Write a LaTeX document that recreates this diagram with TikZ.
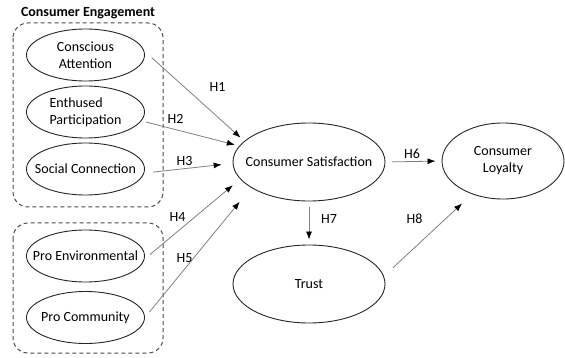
\documentclass[tikz,border=0pt]{standalone}
\usepackage{fontspec}
\setmainfont{Carlito}
\usepackage{tikz}
\usetikzlibrary{shapes.geometric,arrows.meta}

\begin{document}
\begin{tikzpicture}[x=1pt,y=-1pt,
  construct/.style={ellipse,draw=black!85,line width=0.9pt,inner ysep=0pt,inner xsep=-15pt,
    minimum width=118pt,minimum height=52pt,align=center},
  latent/.style={construct,minimum width=152pt,minimum height=78pt},
  group/.style={draw=black!70,line width=1pt,dash pattern=on 4pt off 3pt,rounded corners=15pt},
  path/.style={draw=black!50,line width=0.8pt,-{Latex[length=8pt,width=6pt,black]}},
  hyp/.style={inner sep=0pt}]
\useasboundingbox (0,0) rectangle (565,358);
\fontsize{14}{17}\selectfont

\draw[group] (13,23) rectangle (163,207);
\draw[group] (13,223) rectangle (163,353);
\node[font=\bfseries,inner sep=0pt] (title) at (88,13) {Consumer Engagement};

\node[construct] (ca) at (85.5,55) {Conscious\\Attention};
\node[construct,align=left] (ep) at (85.5,112) {Enthused\\Participation};
\node[construct] (sc) at (85.5,169) {Social Connection};
\node[construct] (pe) at (85.5,256) {Pro Environmental};
\node[construct] (pc) at (85.5,317.5) {Pro Community};

\node[latent] (cs) at (309,162) {Consumer Satisfaction};
\node[latent,minimum width=122pt,minimum height=76pt] (cl) at (503,161) {Consumer\\Loyalty};
\node[latent] (tr) at (309,284) {Trust};

\draw[path,shorten <=10pt,shorten >=5pt] (ca.4) -- (cs.162.6);
\draw[path,shorten <=4.7pt,shorten >=4.5pt] (ep.-9) -- (cs.167);
\draw[path,shorten <=9pt,shorten >=11pt] (sc.-4) -- (cs.181.5);
\draw[path,shorten <=7pt,shorten >=9.5pt] (pe.-3) -- (cs.-166);
\draw[path,shorten <=7pt,shorten >=18pt] (pc.0) -- (cs.-156);
\draw[path,shorten <=7pt,shorten >=6pt] (cs.east) -- (cl.west);
\draw[path,shorten <=6pt,shorten >=5pt] (cs.south) -- (tr.north);
\draw[path,shorten <=12.5pt,shorten >=13.6pt] (tr.6.5) -- (cl.-133.4);

\node[hyp] (h1) at (217.5,87) {H1};
\node[hyp] (h2) at (175.5,119) {H2};
\node[hyp] (h3) at (184.5,161) {H3};
\node[hyp] (h4) at (177.5,217) {H4};
\node[hyp] (h5) at (184.5,258) {H5};
\node[hyp] (h6) at (412,154) {H6};
\node[hyp] (h7) at (329,219) {H7};
\node[hyp] (h8) at (414.5,219) {H8};

\end{tikzpicture}
\end{document}
